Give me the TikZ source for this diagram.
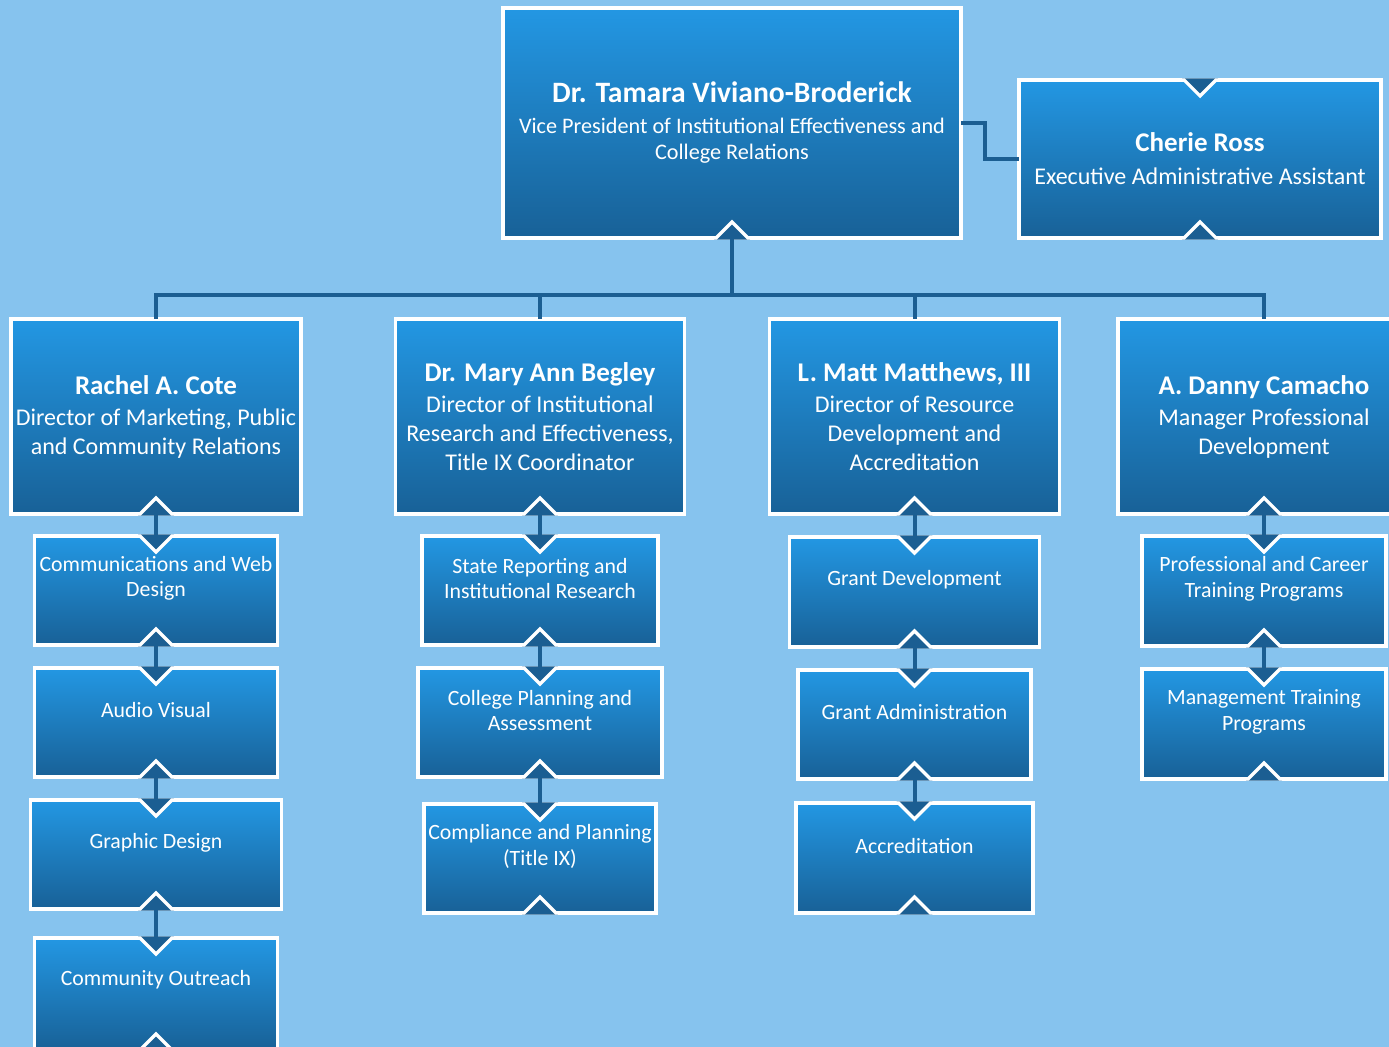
\documentclass[tikz,border=0pt]{standalone}
\usepackage{fontspec}
\setmainfont{Carlito}

\definecolor{bgblue}{HTML}{86C3EE}
\definecolor{boxtop}{HTML}{2397E3}
\definecolor{boxbot}{HTML}{186197}
\definecolor{linkblue}{HTML}{1B5E92}

\tikzset{
  box/.style 2 args={draw=white,line width=1.6pt,top color=boxtop,bottom color=boxbot,
    minimum width=#1*0.5pt,minimum height=#2*0.5pt,inner sep=0pt,outer sep=0pt,
    text=white,align=center},
  head/.style={font=\fontsize{12}{14.5}\selectfont},
  subtxt/.style={text=white,align=center,font=\fontsize{10.9}{12.8}\selectfont},
  conn/.style={draw=linkblue,line width=2pt},
  notchfill/.style={fill=linkblue},
  notchline/.style={draw=white,line width=1.6pt,line join=miter}
}

\newcommand\nm[1]{{\fontsize{13.5}{15}\selectfont\bfseries #1}}
\newcommand\notchbot[1]{%
  \fill[notchfill] ([shift={(-9pt,-0.8pt)}]#1.south) -- ([yshift=8pt]#1.south) -- ([shift={(9pt,-0.8pt)}]#1.south) -- cycle;
  \draw[notchline] ([xshift=-12pt]#1.south) -- ([xshift=-8pt]#1.south) -- ([yshift=8pt]#1.south) -- ([xshift=8pt]#1.south) -- ([xshift=12pt]#1.south);}
\newcommand\notchtop[1]{%
  \fill[notchfill] ([shift={(-9pt,0.8pt)}]#1.north) -- ([yshift=-8pt]#1.north) -- ([shift={(9pt,0.8pt)}]#1.north) -- cycle;
  \draw[notchline] ([xshift=-12pt]#1.north) -- ([xshift=-8pt]#1.north) -- ([yshift=-8pt]#1.north) -- ([xshift=8pt]#1.north) -- ([xshift=12pt]#1.north);}

\begin{document}
\begin{tikzpicture}[x=0.5pt,y=-0.5pt]
  \useasboundingbox (0,0) rectangle (1389,1047);
  \fill[bgblue] (0,0) rectangle (1389,1047);
  \clip (0,0) rectangle (1389,1047);

  \node[box={458}{230},font=\fontsize{11.1}{13}\selectfont] (vp) at (732,123)
    {{\fontsize{14.8}{16}\selectfont\bfseries Dr. Tamara Viviano-Broderick}\\[2.5pt]
     Vice President of Institutional Effectiveness and\\College Relations};
  \node[box={362}{158},head] (cherie) at (1200,159)
    {\nm{Cherie Ross}\\[2pt]Executive Administrative Assistant};

  \node[box={290}{195},head] (cote) at (156,416.5)
    {\nm{Rachel A. Cote}\\[1pt]Director of Marketing, Public\\and Community Relations};
  \node[box={289}{195},head] (begley) at (540,416.5)
    {\nm{Dr. Mary Ann Begley}\\[1pt]Director of Institutional\\Research and Effectiveness,\\Title IX Coordinator};
  \node[box={290}{195},head] (matthews) at (914.5,416.5)
    {\nm{L. Matt Matthews, III}\\[1pt]Director of Resource\\Development and\\Accreditation};
  \node[box={292}{195},head] (camacho) at (1264,416.5)
    {\nm{A. Danny Camacho}\\[1pt]Manager Professional\\Development};

  \node[box={243}{109},label={[subtxt,yshift=6pt]center:Communications and Web\\Design}] (webdesign) at (156,590.5) {};
  \node[box={243}{109},label={[subtxt,yshift=6pt]center:Audio Visual}] (audiovis) at (156,722.5) {};
  \node[box={251}{109},label={[subtxt,yshift=6pt]center:Graphic Design}] (graphic) at (156,854.5) {};
  \node[box={243}{112},label={[subtxt,yshift=7pt]center:Community Outreach}] (outreach) at (156,994) {};

  \node[box={236}{109},label={[subtxt,yshift=6pt]center:State Reporting and\\Institutional Research}] (reporting) at (540,590.5) {};
  \node[box={244}{109},label={[subtxt,yshift=6pt]center:College Planning and\\Assessment}] (planning) at (540,722.5) {};
  \node[box={232}{109},label={[subtxt,yshift=6pt]center:Compliance and Planning\\(Title IX)}] (compliance) at (540,858.5) {};

  \node[box={250}{110},label={[subtxt,yshift=6pt]center:Grant Development}] (grantdev) at (914.5,592) {};
  \node[box={233}{109},label={[subtxt,yshift=6pt]center:Grant Administration}] (grantadm) at (914.5,724.5) {};
  \node[box={237}{110},label={[subtxt,yshift=6pt]center:Accreditation}] (accred) at (914.5,858) {};

  \node[box={244}{110},label={[subtxt,yshift=6pt]center:Professional and Career\\Training Programs}] (career) at (1264,591) {};
  \node[box={244}{110},label={[subtxt,yshift=6pt]center:Management Training\\Programs}] (mgmt) at (1264,724) {};

  \coordinate (bus) at (732,295);
  \draw[conn] (vp.south) -- (bus);
  \draw[conn] (cote.north) |- (camacho.north |- bus) -- (camacho.north);
  \draw[conn] (begley.north) -- (begley.north |- bus);
  \draw[conn] (matthews.north) -- (matthews.north |- bus);
  \draw[conn] (vp.east) -- ++(24,0) |- (cherie.west);

  \draw[conn] (cote.south) -- (webdesign.north);
  \draw[conn] (webdesign.south) -- (audiovis.north);
  \draw[conn] (audiovis.south) -- (graphic.north);
  \draw[conn] (graphic.south) -- (outreach.north);
  \draw[conn] (begley.south) -- (reporting.north);
  \draw[conn] (reporting.south) -- (planning.north);
  \draw[conn] (planning.south) -- (compliance.north);
  \draw[conn] (matthews.south) -- (grantdev.north);
  \draw[conn] (grantdev.south) -- (grantadm.north);
  \draw[conn] (grantadm.south) -- (accred.north);
  \draw[conn] (camacho.south) -- (career.north);
  \draw[conn] (career.south) -- (mgmt.north);

  \foreach \n in {vp,cherie,cote,begley,matthews,camacho}
    {\notchbot{\n}}
  \notchtop{cherie}
  \foreach \n in {webdesign,audiovis,graphic,outreach,reporting,planning,compliance,grantdev,grantadm,accred,career,mgmt}
    {\notchtop{\n}\notchbot{\n}}
\end{tikzpicture}
\end{document}
